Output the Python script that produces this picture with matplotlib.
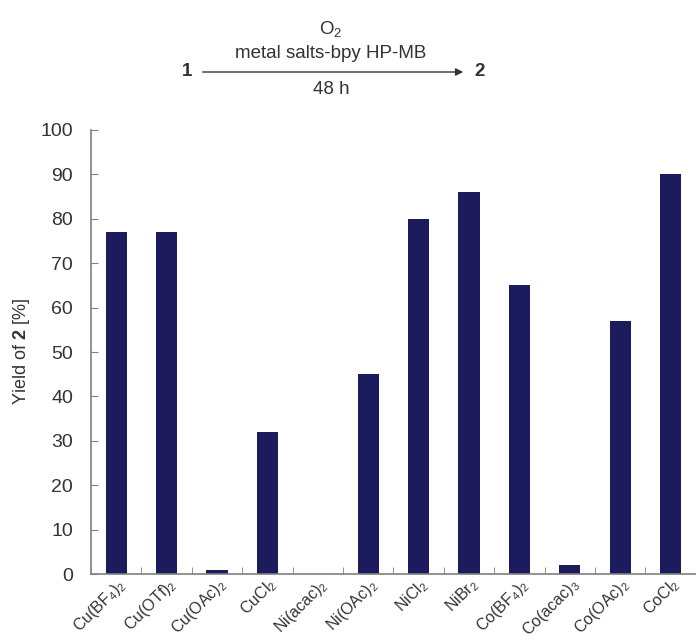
import matplotlib
matplotlib.use('Agg')
import matplotlib.pyplot as plt
import matplotlib.transforms as mtransforms
import numpy as np

plt.rcParams['font.family'] = ['Liberation Sans', 'DejaVu Sans']
plt.rcParams['mathtext.fontset'] = 'custom'
plt.rcParams['mathtext.rm'] = 'Liberation Sans'
plt.rcParams['mathtext.it'] = 'Liberation Sans'
plt.rcParams['mathtext.bf'] = 'Liberation Sans:bold'

# Data
salts = [r'Cu(BF$_4$)$_2$', r'Cu(OTf)$_2$', r'Cu(OAc)$_2$', r'CuCl$_2$',
         r'Ni(acac)$_2$', r'Ni(OAc)$_2$', r'NiCl$_2$', r'NiBr$_2$',
         r'Co(BF$_4$)$_2$', r'Co(acac)$_3$', r'Co(OAc)$_2$', r'CoCl$_2$']
yields = [77, 77, 1, 32, 0, 45, 80, 86, 65, 2, 57, 90]

bar_color = '#1b1b5e'
axis_color = '#808080'
text_color = '#333333'

fig = plt.figure(figsize=(6.96, 6.4), dpi=100)
ax = fig.add_axes([0.1307, 0.103, 0.869, 0.694])

x = np.arange(len(salts))
ax.bar(x, yields, width=0.42, color=bar_color)

ax.set_xlim(-0.5, len(salts) - 0.5)
ax.set_ylim(0, 100)
ax.set_yticks(np.arange(0, 101, 10))
ax.set_xticks(x)
ax.set_xticklabels(salts, rotation=45, ha='right', rotation_mode='anchor',
                   fontsize=11.5, color=text_color)
# shift labels so their upper end sits just right of the bar
shift = mtransforms.ScaledTranslation(15 / 100, 0, fig.dpi_scale_trans)
for lbl in ax.get_xticklabels():
    lbl.set_transform(lbl.get_transform() + shift)
ax.set_xticks(np.arange(-0.5, len(salts), 1), minor=True)
ax.tick_params(axis='x', which='major', length=0, pad=1)
ax.tick_params(axis='x', which='minor', direction='in', length=5, color=axis_color)
ax.tick_params(axis='y', direction='in', length=5, color=axis_color,
               labelsize=14, labelcolor=text_color, pad=13)

for side in ['top', 'right']:
    ax.spines[side].set_visible(False)
for side in ['left', 'bottom']:
    ax.spines[side].set_color(axis_color)
    ax.spines[side].set_linewidth(1.2)

ax.set_ylabel(r'Yield of $\mathbf{2}$ [%]', fontsize=13, color=text_color, labelpad=6)

# Reaction scheme at top
fs = 13.5
fig.text(331 / 696, 1 - 29 / 640, r'O$_2$', ha='center', va='center',
         fontsize=fs, color=text_color)
fig.text(331 / 696, 1 - 54 / 640, 'metal salts-bpy HP-MB', ha='center', va='center',
         fontsize=fs, color=text_color)
fig.text(331 / 696, 1 - 90 / 640, '48 h', ha='center', va='center',
         fontsize=fs, color=text_color)
fig.text(187 / 696, 1 - 72 / 640, '1', ha='center', va='center',
         fontsize=fs, fontweight='bold', color=text_color)
fig.text(480 / 696, 1 - 72 / 640, '2', ha='center', va='center',
         fontsize=fs, fontweight='bold', color=text_color)
fig.patches.append(matplotlib.patches.FancyArrowPatch(
    (200 / 696, 1 - 72 / 640), (466 / 696, 1 - 72 / 640),
    transform=fig.transFigure, arrowstyle='-|>', mutation_scale=11,
    color=text_color, linewidth=1))

fig.savefig('out.png', dpi=100)
